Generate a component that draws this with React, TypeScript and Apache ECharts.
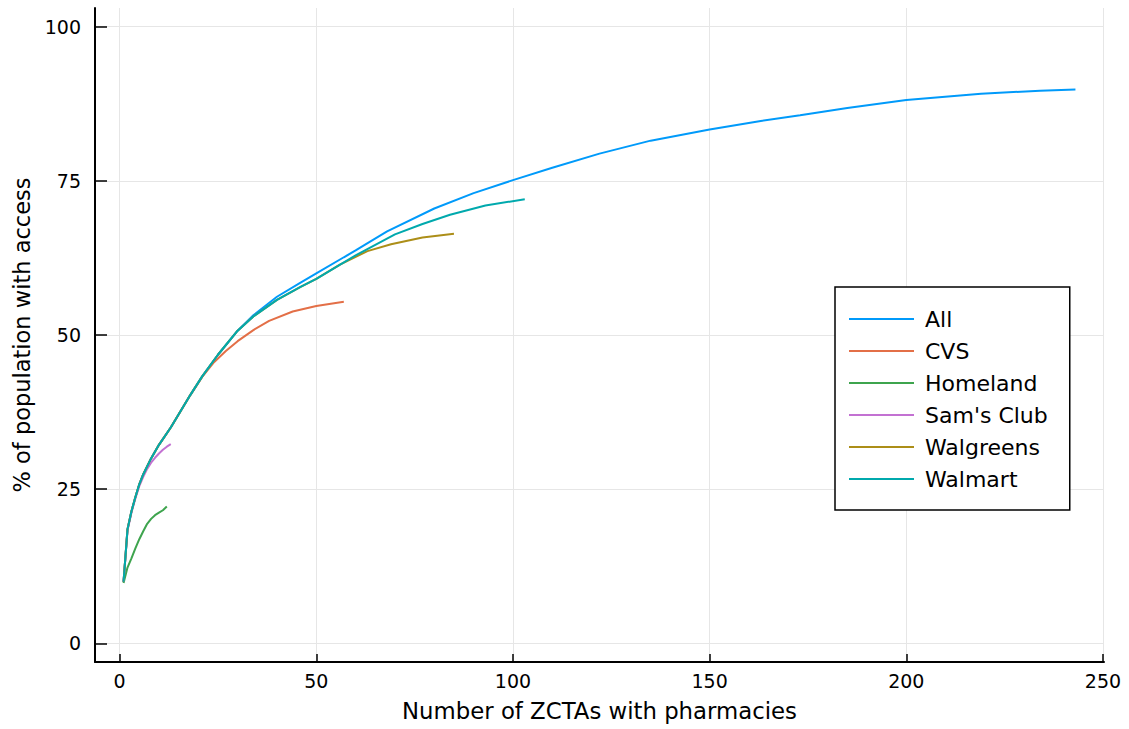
import React, { useEffect, useRef } from "react";
import * as echarts from "echarts";

const seriesNames = ["All", "CVS", "Homeland", "Sam's Club", "Walgreens", "Walmart"];
const seriesColors = ["#009AFA", "#E36F47", "#3EA44E", "#C371D2", "#AC8E18", "#00A9AD"];

const allX = [1, 2, 3, 4, 5, 6, 8, 10, 13, 18, 21, 25, 30, 34, 40, 46, 50, 57, 60, 68, 80, 90, 100, 110, 122, 135, 150, 163, 173, 185, 200, 219, 234, 243];
const allY = [10, 18.5, 21.4, 23.7, 25.8, 27.4, 30.0, 32.2, 35.0, 40.3, 43.3, 46.8, 50.7, 53.2, 56.2, 58.5, 60.0, 62.6, 63.7, 66.8, 70.5, 73.0, 75.1, 77.1, 79.4, 81.5, 83.3, 84.7, 85.6, 86.8, 88.1, 89.1, 89.6, 89.8];

const cvsX = [1, 2, 3, 4, 5, 6, 8, 10, 13, 18, 21, 24, 27, 30, 34, 38, 44, 50, 57];
const cvsY = [10, 18.5, 21.4, 23.7, 25.8, 27.4, 30.0, 32.2, 35.0, 40.3, 43.2, 45.6, 47.4, 49.0, 50.8, 52.3, 53.8, 54.7, 55.4];

const homelandX = [1, 2, 3, 4, 5, 6, 7, 8, 9, 10, 11, 12];
const homelandY = [9.8, 12.3, 13.8, 15.4, 16.9, 18.2, 19.4, 20.2, 20.8, 21.2, 21.6, 22.2];

const samsX = [1, 2, 3, 4, 5, 6, 7, 8, 9, 10, 11, 12, 13];
const samsY = [10, 18.3, 21.2, 23.5, 25.5, 27.0, 28.3, 29.3, 30.1, 30.8, 31.4, 31.9, 32.3];

const walgreensX = [1, 2, 3, 4, 5, 6, 8, 10, 13, 18, 21, 25, 30, 34, 40, 46, 50, 56, 63, 69, 77, 85];
const walgreensY = [10, 18.5, 21.4, 23.7, 25.8, 27.4, 30.0, 32.2, 35.0, 40.3, 43.3, 46.8, 50.7, 53.0, 55.7, 57.8, 59.1, 61.4, 63.6, 64.7, 65.8, 66.4];

const walmartX = [1, 2, 3, 4, 5, 6, 8, 10, 13, 18, 21, 25, 30, 34, 40, 46, 50, 55, 60, 65, 70, 77, 84, 93, 103];
const walmartY = [10, 18.5, 21.4, 23.7, 25.8, 27.4, 30.0, 32.2, 35.0, 40.3, 43.3, 46.8, 50.7, 53.0, 55.7, 57.8, 59.1, 61.0, 62.9, 64.6, 66.3, 68.0, 69.5, 71.0, 72.0];

const xTicks = [0, 50, 100, 150, 200, 250];
const yTicks = [0, 25, 50, 75, 100];

const xLabel = "Number of ZCTAs with pharmacies";
const yLabel = "% of population with access";

const seriesXs = [allX, cvsX, homelandX, samsX, walgreensX, walmartX];
const seriesYs = [allY, cvsY, homelandY, samsY, walgreensY, walmartY];

const FONT = "DejaVu Sans";

export default function App() {
  const ref = useRef<HTMLDivElement>(null);
  useEffect(() => {
    if (!ref.current) return;
    const chart = echarts.init(ref.current, undefined, { renderer: "svg" });
    const series = seriesNames.map((name, i) => ({
      name,
      type: "line",
      data: seriesXs[i].map((x, j) => [x, seriesYs[i][j]]),
      symbol: "none",
      smooth: false,
      lineStyle: { color: seriesColors[i], width: 2 },
      itemStyle: { color: seriesColors[i] },
      z: 2 + i,
    }));
    chart.setOption({
      animation: false,
      backgroundColor: "#ffffff",
      grid: { left: 95, top: 8, right: 25, bottom: 67 },
      xAxis: {
        type: "value",
        min: -6.26,
        max: 250.26,
        name: xLabel,
        nameLocation: "middle",
        nameGap: 37,
        nameTextStyle: { fontFamily: FONT, fontSize: 22.8, color: "#000" },
        axisLine: { show: true, onZero: false, lineStyle: { color: "#000", width: 2 } },
        axisTick: { show: true, inside: true, length: 8, customValues: xTicks, lineStyle: { color: "#000", width: 1.5 } },
        axisLabel: { customValues: xTicks, fontFamily: FONT, fontSize: 19, color: "#000", margin: 9 },
        splitLine: { show: true, lineStyle: { color: "#e6e6e6", width: 1 } },
      },
      yAxis: {
        type: "value",
        min: -3,
        max: 103,
        name: yLabel,
        nameLocation: "middle",
        nameGap: 62,
        nameTextStyle: { fontFamily: FONT, fontSize: 22.5, color: "#000" },
        axisLine: { show: true, onZero: false, lineStyle: { color: "#000", width: 2 } },
        axisTick: { show: true, inside: true, length: 12, customValues: yTicks, lineStyle: { color: "#000", width: 1.5 } },
        axisLabel: { customValues: yTicks, fontFamily: FONT, fontSize: 19, color: "#000", margin: 14 },
        splitLine: { show: true, lineStyle: { color: "#e6e6e6", width: 1 } },
      },
      legend: {
        data: seriesNames,
        orient: "vertical",
        left: 835,
        top: 287,
        padding: [21, 22, 20, 13],
        itemGap: 10,
        itemWidth: 65,
        itemHeight: 14,
        itemStyle: { opacity: 0 },
        lineStyle: { width: 2 },
        backgroundColor: "#ffffff",
        borderColor: "#000",
        borderWidth: 1.5,
        borderRadius: 0,
        textStyle: { fontFamily: FONT, fontSize: 22, color: "#000", lineHeight: 22, padding: [0, 0, 0, 6] },
        selectedMode: false,
      },
      series,
    });
    return () => chart.dispose();
  }, []);
  return (
    <div
      ref={ref}
      style={{ position: "fixed", left: 0, top: 0, width: 1129, height: 729, background: "#fff" }}
    />
  );
}
